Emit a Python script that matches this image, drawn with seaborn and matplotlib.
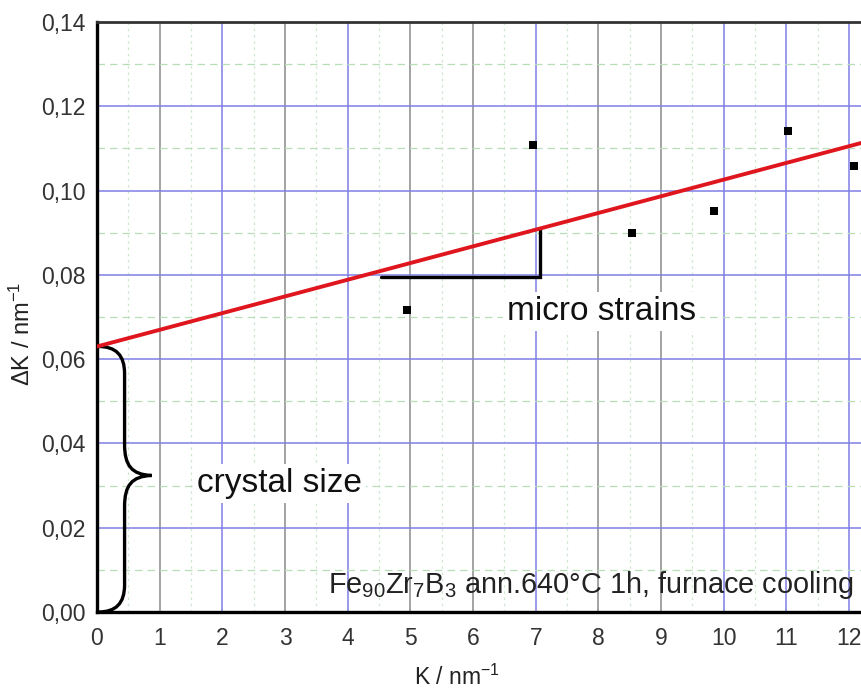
import numpy as np
import matplotlib
matplotlib.use("Agg")
import matplotlib.pyplot as plt
from matplotlib.path import Path
from matplotlib.patches import PathPatch
import seaborn as sns

# ---- data ----
k_values = [4.94, 6.96, 8.53, 9.85, 11.03, 12.08]
dk_values = [0.0717, 0.1108, 0.0900, 0.0951, 0.1141, 0.1059]
fit_k = [0.0, 12.6]
fit_dk = [0.0630, 0.1129]
x_ticks = list(range(0, 13))
x_tick_labels = [str(v) for v in x_ticks]
y_ticks = [0.00, 0.02, 0.04, 0.06, 0.08, 0.10, 0.12, 0.14]
y_tick_labels = ["0,00", "0,02", "0,04", "0,06", "0,08", "0,10", "0,12", "0,14"]
strain_k = [4.53, 7.07]
strain_dk = [0.0795, 0.0907]

sns.set_style("white")
plt.rcParams["font.family"] = ["Liberation Sans", "DejaVu Sans"]
plt.rcParams["mathtext.fontset"] = "custom"
plt.rcParams["mathtext.rm"] = "Liberation Sans"
plt.rcParams["mathtext.it"] = "Liberation Sans:italic"
plt.rcParams["mathtext.bf"] = "Liberation Sans:bold"

W, H = 862, 693
fig = plt.figure(figsize=(W / 100, H / 100), dpi=100)
xmax = 12.6
px_per_unit = 62.67
ax = fig.add_axes([97 / W, (H - 612) / H, xmax * px_per_unit / W, 590 / H])
ax.set_xlim(0, xmax)
ax.set_ylim(0, 0.14)

# grid
blue = "#7f7fe6"
gray = "#8a8a8a"
vcolors = [None, gray, blue, gray, blue, gray, gray, blue, gray, gray, blue, blue, blue]
for xv, c in zip(x_ticks, vcolors):
    if c is not None:
        ax.axvline(xv, color=c, lw=1.1, zorder=0)
for xv in np.arange(0.5, 13, 1.0):
    ax.axvline(xv, color="#cfe6cf", lw=0.9, ls=(0, (2, 3)), zorder=0)
for yv in y_ticks[1:]:
    ax.axhline(yv, color=blue, lw=1.1, zorder=0)
for yv in np.arange(0.01, 0.14, 0.02):
    ax.axhline(yv, color="#b8deb8", lw=0.9, ls=(0, (6, 4)), zorder=0)

# fit line and points
sns.lineplot(x=fit_k, y=fit_dk, color="#e0161e", lw=2.8, ax=ax, zorder=4)
sns.scatterplot(x=k_values, y=dk_values, marker="s", s=32, color="black",
                linewidth=0, ax=ax, zorder=5)

# micro strains triangle
ax.plot([strain_k[0], strain_k[1], strain_k[1]],
        [strain_dk[0], strain_dk[0], strain_dk[1]],
        color="black", lw=2.4, solid_joinstyle="miter", zorder=3)

# brace for crystal size
xv, tipx, tipy, top = 0.44, 0.87, 0.0324, 0.0630
verts = [
    (0.02, 0.0), (0.30, 0.0), (xv, 0.002), (xv, 0.0065),
    (xv, 0.025),
    (xv, 0.030), (0.55, 0.0322), (tipx, tipy),
    (0.55, 0.0326), (xv, 0.0348), (xv, 0.0398),
    (xv, 0.0565),
    (xv, 0.0610), (0.30, top), (0.02, top),
]
codes = [Path.MOVETO, Path.CURVE4, Path.CURVE4, Path.CURVE4,
         Path.LINETO,
         Path.CURVE4, Path.CURVE4, Path.CURVE4,
         Path.CURVE4, Path.CURVE4, Path.CURVE4,
         Path.LINETO,
         Path.CURVE4, Path.CURVE4, Path.CURVE4]
ax.add_patch(PathPatch(Path(verts, codes), fill=False, lw=2.4, color="black",
                       capstyle="round", zorder=3))

# annotations
box = dict(facecolor="white", edgecolor="none", pad=3)
ax.text(1.60, 0.0304, "crystal size", fontsize=24, va="center", ha="left",
        color="#111111", bbox=box, zorder=2)
ax.text(6.54, 0.0713, "micro strains", fontsize=24, va="center", ha="left",
        color="#111111", bbox=box, zorder=2)
ax.text(3.69, 0.0046, r"Fe$_{90}$Zr$_7$B$_3$ ann.640°C 1h, furnace cooling",
        fontsize=20.8, va="baseline", ha="left", color="#222222", zorder=2)

# axes styling
ax.set_xticks(x_ticks)
ax.set_xticklabels(x_tick_labels)
ax.set_yticks(y_ticks)
ax.set_yticklabels(y_tick_labels)
ax.set_xticks(np.arange(0.5, 13, 1.0), minor=True)
ax.set_yticks(np.arange(0.01, 0.14, 0.02), minor=True)
ax.tick_params(axis="both", which="major", direction="in", length=8, width=2,
               labelsize=16.5, colors="black", labelcolor="#333333")
ax.tick_params(axis="x", which="major", pad=11)
ax.tick_params(axis="y", which="major", pad=8)
ax.tick_params(axis="both", which="minor", direction="in", length=5, width=1.6,
               colors="black")
ax.tick_params(top=False, right=False, which="both")
for side in ["left", "bottom"]:
    ax.spines[side].set_linewidth(2.4)
    ax.spines[side].set_color("black")
ax.spines["top"].set_linewidth(2.0)
ax.spines["top"].set_color("#333333")
ax.spines["right"].set_visible(False)

ax.set_xlabel(r"K / nm$^{-1}$", fontsize=16.5, color="#222222", va="center")
ax.set_ylabel(r"ΔK / nm$^{-1}$", fontsize=17, color="#222222")
ax.xaxis.set_label_coords((457 - 97) / (xmax * px_per_unit), -(677 - 612) / 590)
ax.yaxis.set_label_coords(-(97 - 35) / (xmax * px_per_unit), (612 - 334) / 590)

fig.savefig("out.png", dpi=100)
